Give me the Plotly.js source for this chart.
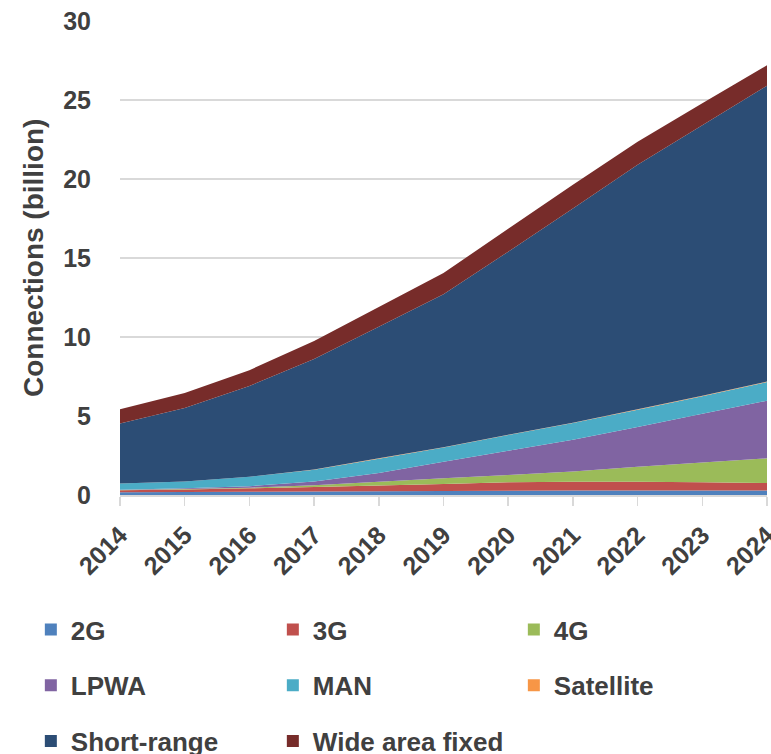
<!DOCTYPE html>
<html>
<head>
<meta charset="utf-8">
<script src="https://cdn.plot.ly/plotly-3.0.1.min.js"></script>
<style>
html,body{margin:0;padding:0;background:#fff;}
#chart{width:771px;height:754px;}
</style>
</head>
<body>
<div id="chart"></div>
<script>
// ---- data (billion connections) ----
const years = [2014, 2015, 2016, 2017, 2018, 2019, 2020, 2021, 2022, 2023, 2024];
const seriesNames = ["2G", "3G", "4G", "LPWA", "MAN", "Satellite", "Short-range", "Wide area fixed"];
const g2        = [0.18, 0.19, 0.20, 0.22, 0.24, 0.26, 0.27, 0.28, 0.28, 0.28, 0.28];
const g3        = [0.12, 0.16, 0.22, 0.28, 0.36, 0.44, 0.53, 0.56, 0.56, 0.52, 0.48];
const g4        = [0.02, 0.03, 0.04, 0.12, 0.24, 0.36, 0.47, 0.64, 0.95, 1.25, 1.56];
const lpwa      = [0.01, 0.04, 0.10, 0.23, 0.56, 1.04, 1.53, 2.02, 2.51, 3.10, 3.65];
const man       = [0.39, 0.43, 0.59, 0.75, 0.90, 0.90, 1.00, 1.05, 1.10, 1.10, 1.18];
const satellite = [0.01, 0.01, 0.01, 0.01, 0.02, 0.02, 0.02, 0.02, 0.03, 0.03, 0.03];
const shortRange= [3.79, 4.64, 5.74, 6.99, 8.33, 9.68, 11.58, 13.57, 15.47, 17.12, 18.72];
const wideArea  = [0.90, 0.95, 1.00, 1.15, 1.25, 1.35, 1.45, 1.50, 1.45, 1.40, 1.30];
const yTicks = [0, 5, 10, 15, 20, 25, 30];
const yTitle = "Connections (billion)";

// ---- styling ----
const colors = ["#4F81BD", "#C0504D", "#9BBB59", "#8064A2", "#4BACC6", "#F79646", "#2C4D75", "#772C2A"];
const values = [g2, g3, g4, lpwa, man, satellite, shortRange, wideArea];
// legend columns (vertical legends): col1 = 2G/LPWA/Short-range, col2 = 3G/MAN/WAF, col3 = 4G/Satellite
const legendOf = ["legend", "legend2", "legend3", "legend", "legend2", "legend3", "legend", "legend2"];
const FONT = "Liberation Sans, Arial, sans-serif";
const TXT = "#404040";

const traces = [];
values.forEach((v, i) => {
  traces.push({
    type: "scatter", x: years, y: v, name: seriesNames[i],
    stackgroup: "one", mode: "none", fillcolor: colors[i],
    line: {width: 0}, legendgroup: seriesNames[i], showlegend: false,
    hoverinfo: "x+y+name"
  });
});
// legend entries (square swatches)
values.forEach((v, i) => {
  traces.push({
    type: "bar", x: [null], y: [null], name: seriesNames[i],
    marker: {color: colors[i], line: {width: 0}},
    legendgroup: seriesNames[i], showlegend: true, legend: legendOf[i],
    hoverinfo: "skip"
  });
});

const legendBase = {
  orientation: "v", xref: "container", yref: "container",
  xanchor: "left", yanchor: "top", y: 1 - 606 / 754,
  tracegroupgap: 19, traceorder: "grouped",
  font: {family: FONT, size: 26, color: TXT, weight: "bold"},
  bgcolor: "rgba(0,0,0,0)", borderwidth: 0, itemclick: false, itemdoubleclick: false
};

const layout = {
  width: 771, height: 754,
  margin: {l: 120, r: 4, t: 21, b: 259, autoexpand: false},
  paper_bgcolor: "#ffffff", plot_bgcolor: "#ffffff",
  font: {family: FONT, color: TXT},
  showlegend: true,
  xaxis: {
    type: "linear", range: [2014, 2024], tickvals: years, ticktext: years.map(String),
    tickangle: -45, ticks: "outside", ticklen: 9, tickwidth: 1.5, tickcolor: "#d9d9d9",
    showline: true, linecolor: "#d9d9d9", linewidth: 1.5, showgrid: false, zeroline: false,
    ticklabeloverflow: "allow", ticklabelstandoff: 5,
    tickfont: {family: FONT, size: 25, color: TXT, weight: "bold"}, automargin: false
  },
  yaxis: {
    range: [0, 30], tickvals: yTicks, ticktext: yTicks.map(String),
    showgrid: true, gridcolor: "#d9d9d9", gridwidth: 1.5, zeroline: false, showline: false,
    ticks: "", ticklabelstandoff: 28,
    tickfont: {family: FONT, size: 25, color: TXT, weight: "bold"},
    automargin: false
  },
  annotations: [{
    text: yTitle, textangle: -90, showarrow: false,
    xref: "paper", yref: "paper", x: (33 - 120) / 647, y: 0.5,
    xanchor: "center", yanchor: "middle",
    font: {family: FONT, size: 28, color: TXT, weight: "bold"}
  }],
  legend: Object.assign({}, legendBase, {x: 0.04}),
  legend2: Object.assign({}, legendBase, {x: 0.04 + 242 / 771}),
  legend3: Object.assign({}, legendBase, {x: 0.04 + 483 / 771})
};

Plotly.newPlot("chart", traces, layout, {staticPlot: true, displayModeBar: false});
</script>
</body>
</html>
